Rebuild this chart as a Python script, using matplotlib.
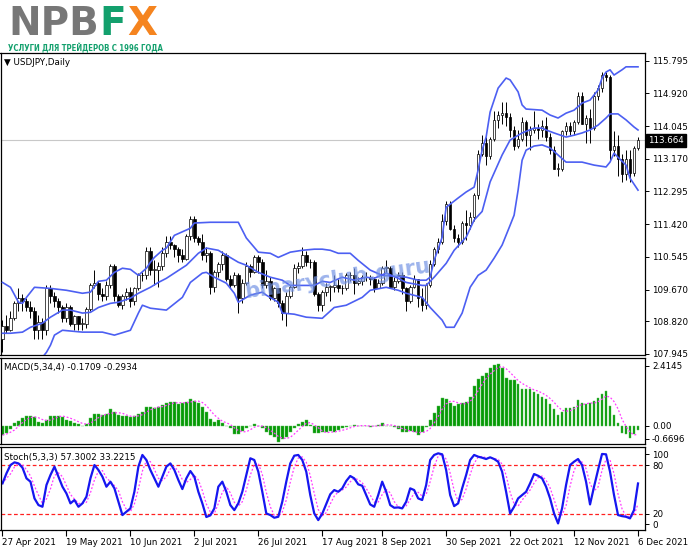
import numpy as np
import pandas as pd
import matplotlib
matplotlib.use('Agg')
import matplotlib.pyplot as plt

# USDJPY daily candles, 27 Apr 2021 .. 7 Dec 2021
opens = [108.35, 108.70, 108.60, 108.90, 109.30, 109.45, 109.35, 109.20, 109.10, 108.60,
         108.80, 108.60, 109.70, 109.50, 109.35, 109.20, 108.90, 109.20, 108.75, 108.95,
         108.75, 108.75, 109.15, 109.80, 109.85, 109.55, 109.50, 109.80, 110.30, 109.50,
         109.25, 109.50, 109.60, 109.35, 109.70, 110.05, 110.05, 110.70, 110.20, 110.20,
         110.30, 110.65, 110.95, 110.85, 110.75, 110.60, 110.50, 111.10, 111.55, 111.05,
         110.95, 110.60, 110.65, 109.75, 110.15, 110.35, 110.60, 109.95, 109.80, 110.05,
         109.45, 109.85, 110.30, 110.15, 110.55, 110.40, 109.80, 109.90, 109.45, 109.70,
         109.30, 109.05, 109.50, 109.75, 110.25, 110.30, 110.60, 110.40, 110.40, 109.55,
         109.25, 109.60, 109.75, 109.75, 109.80, 109.70, 109.70, 110.05, 110.05, 109.85,
         109.90, 110.00, 110.00, 109.95, 109.70, 109.85, 110.25, 110.25, 109.75, 109.90,
         110.05, 109.70, 109.35, 109.75, 109.95, 109.45, 109.25, 109.80, 110.35, 110.75,
         110.95, 111.50, 111.95, 111.30, 111.05, 110.95, 111.45, 111.40, 111.60, 112.20,
         113.30, 113.60, 113.25, 113.70, 114.20, 114.35, 114.40, 114.30, 113.95, 113.50,
         113.70, 114.15, 113.80, 113.95, 114.00, 113.95, 114.05, 113.75, 113.40, 112.90,
         112.90, 113.90, 114.05, 113.90, 114.15, 114.85, 114.10, 114.25, 114.00, 114.85,
         115.05, 115.40, 115.35, 113.40, 113.50, 113.15, 112.75, 113.15, 112.80, 113.45]
highs = [108.85, 109.00, 109.10, 109.35, 109.70, 109.55, 109.45, 109.35, 109.20, 109.00,
         108.90, 109.80, 109.80, 109.60, 109.45, 109.25, 109.30, 109.25, 109.00, 108.95,
         108.90, 109.20, 109.85, 110.20, 109.90, 109.70, 109.90, 110.35, 110.35, 109.55,
         109.55, 109.70, 109.75, 109.75, 110.10, 110.15, 110.80, 110.80, 110.45, 110.40,
         110.80, 111.10, 111.10, 110.90, 110.80, 110.75, 111.15, 111.65, 111.65, 111.10,
         111.15, 110.80, 110.70, 110.20, 110.40, 110.70, 110.65, 110.05, 110.15, 110.10,
         109.95, 110.40, 110.35, 110.60, 110.60, 110.50, 110.20, 110.00, 109.75, 109.70,
         109.40, 109.60, 109.80, 110.35, 110.40, 110.80, 110.70, 110.50, 110.45, 109.60,
         109.65, 109.85, 109.80, 110.05, 109.95, 109.80, 110.10, 110.15, 110.25, 110.00,
         110.05, 110.15, 110.05, 110.00, 109.95, 110.30, 110.45, 110.30, 110.00, 110.15,
         110.15, 109.75, 109.80, 110.05, 109.95, 109.70, 109.85, 110.45, 110.80, 111.05,
         111.70, 112.05, 112.05, 111.40, 111.15, 111.50, 111.80, 111.75, 112.25, 113.40,
         113.80, 113.75, 113.75, 114.45, 114.45, 114.70, 114.70, 114.40, 114.05, 113.95,
         114.30, 114.20, 114.05, 114.45, 114.10, 114.20, 114.30, 113.85, 113.50, 113.05,
         113.95, 114.15, 114.15, 114.20, 114.95, 114.95, 114.35, 114.50, 114.95, 115.15,
         115.50, 115.50, 115.40, 113.90, 113.80, 113.30, 113.40, 113.40, 113.50, 113.75]
lows = [108.00, 108.50, 108.55, 108.85, 109.10, 109.10, 109.10, 108.90, 108.35, 108.35,
        108.35, 108.45, 109.30, 109.20, 109.05, 108.80, 108.80, 108.70, 108.60, 108.60,
        108.60, 108.65, 109.10, 109.70, 109.40, 109.35, 109.40, 109.70, 109.35, 109.20,
        109.15, 109.40, 109.20, 109.25, 109.65, 109.90, 109.95, 110.05, 109.80, 109.75,
        110.20, 110.55, 110.75, 110.55, 110.40, 110.40, 110.45, 111.00, 110.95, 110.85,
        110.45, 110.40, 109.55, 109.60, 110.00, 110.20, 109.90, 109.70, 109.75, 109.05,
        109.30, 109.80, 110.00, 110.10, 110.10, 109.70, 109.70, 109.40, 109.35, 109.20,
        108.85, 108.70, 109.45, 109.70, 110.10, 110.25, 110.30, 110.25, 109.50, 109.10,
        109.10, 109.50, 109.35, 109.60, 109.60, 109.55, 109.65, 109.90, 109.55, 109.80,
        109.80, 109.90, 109.80, 109.60, 109.70, 109.80, 110.10, 109.70, 109.65, 109.85,
        109.55, 109.10, 109.30, 109.70, 109.20, 109.10, 109.15, 109.75, 110.30, 110.65,
        110.90, 111.40, 111.25, 110.95, 110.80, 110.90, 111.00, 111.30, 111.50, 112.10,
        113.25, 113.00, 113.15, 113.65, 114.00, 114.10, 114.05, 113.75, 113.40, 113.45,
        113.65, 113.50, 113.40, 113.85, 113.70, 113.75, 113.65, 113.30, 112.90, 112.70,
        112.85, 113.80, 113.80, 113.80, 114.10, 114.10, 113.60, 113.60, 113.95, 114.75,
        114.95, 115.25, 113.10, 113.25, 112.70, 112.55, 112.60, 112.55, 112.70, 113.40]
closes = [108.70, 108.60, 108.90, 109.30, 109.45, 109.35, 109.20, 109.10, 108.60, 108.80,
          108.60, 109.70, 109.50, 109.35, 109.20, 108.90, 109.20, 108.75, 108.95, 108.75,
          108.75, 109.15, 109.80, 109.85, 109.55, 109.50, 109.80, 110.30, 109.50, 109.25,
          109.50, 109.60, 109.35, 109.70, 110.05, 110.05, 110.70, 110.20, 110.20, 110.30,
          110.65, 110.95, 110.85, 110.75, 110.60, 110.50, 111.10, 111.55, 111.05, 110.95,
          110.60, 110.65, 109.75, 110.15, 110.35, 110.60, 109.95, 109.80, 110.05, 109.45,
          109.85, 110.30, 110.15, 110.55, 110.40, 109.80, 109.90, 109.45, 109.70, 109.30,
          109.05, 109.50, 109.75, 110.25, 110.30, 110.60, 110.40, 110.40, 109.55, 109.25,
          109.60, 109.75, 109.75, 109.80, 109.70, 109.70, 110.05, 110.05, 109.85, 109.90,
          110.00, 110.00, 109.95, 109.70, 109.85, 110.25, 110.25, 109.75, 109.90, 110.05,
          109.70, 109.35, 109.75, 109.95, 109.45, 109.25, 109.80, 110.35, 110.75, 110.95,
          111.50, 111.95, 111.30, 111.05, 110.95, 111.45, 111.40, 111.60, 112.20, 113.30,
          113.60, 113.25, 113.70, 114.20, 114.35, 114.40, 114.30, 113.95, 113.50, 113.70,
          114.15, 113.80, 113.95, 114.00, 113.95, 114.05, 113.75, 113.40, 112.90, 112.90,
          113.90, 114.05, 113.90, 114.15, 114.85, 114.10, 114.25, 114.00, 114.85, 115.05,
          115.40, 115.35, 113.40, 113.50, 113.15, 112.75, 113.15, 112.80, 113.45, 113.664]

# Bollinger bands, read at the bars where the lines could be read
upper_bar = [0, 2, 4, 5, 6, 8, 12, 16, 20, 22, 24, 26, 28, 30, 32, 34, 36, 37, 38, 40,
             41, 43, 47, 48, 52, 56, 59, 61, 64, 67, 69, 72, 75, 78, 80, 82, 84, 87, 89, 92,
             95, 101, 104, 106, 107, 108, 110, 111, 114, 116, 118, 119, 120, 121, 122, 124,
             126, 127, 129, 130, 131, 135, 137, 139, 141, 143, 145, 147, 149, 150, 151, 152,
             153, 155, 156, 159]
upper_val = [109.86, 109.73, 109.33, 109.30, 109.46, 109.73, 109.70, 109.65, 109.57, 109.60,
             109.89, 109.92, 110.13, 110.24, 110.21, 110.05, 110.24, 110.40, 110.53, 110.72,
             110.78, 111.12, 111.31, 111.45, 111.47, 111.47, 111.47, 111.05, 110.67, 110.64,
             110.53, 110.67, 110.72, 110.75, 110.75, 110.72, 110.64, 110.64, 110.45, 110.19,
             110.05, 110.00, 109.92, 109.92, 110.00, 110.45, 111.07, 111.87, 112.12, 112.28,
             112.41, 112.87, 113.40, 113.75, 114.42, 115.06, 115.33, 115.28, 114.96, 114.61,
             114.50, 114.47, 114.34, 114.26, 114.39, 114.47, 114.66, 114.74, 115.01, 115.33,
             115.49, 115.55, 115.41, 115.55, 115.63, 115.63]
mid_bar = [0, 2, 5, 7, 10, 12, 15, 17, 20, 22, 24, 27, 29, 32, 34, 37, 39, 41, 43, 46,
           49, 51, 54, 56, 59, 61, 64, 67, 70, 72, 75, 78, 80, 82, 85, 88, 91, 93, 96, 99,
           101, 105, 106, 108, 111, 113, 116, 118, 120, 122, 125, 127, 130, 133, 135, 136,
           138, 141, 143, 145, 147, 149, 151, 152, 154, 156, 158, 159]
mid_val = [108.50, 108.50, 108.53, 108.66, 108.77, 108.93, 109.12, 109.12, 109.04, 109.06,
           109.19, 109.30, 109.33, 109.44, 109.57, 109.73, 109.86, 109.97, 110.11, 110.32,
           110.64, 110.78, 110.72, 110.59, 110.40, 110.32, 110.13, 110.00, 109.92, 109.78,
           109.78, 109.78, 109.89, 109.86, 110.00, 109.92, 110.00, 109.97, 110.11, 109.97,
           109.86, 109.78, 109.78, 110.00, 110.37, 110.72, 111.07, 111.53, 111.76, 112.55,
           113.27, 113.67, 113.86, 113.99, 113.99, 113.94, 113.86, 113.75, 113.80, 113.86,
           113.94, 114.07, 114.26, 114.37, 114.37, 114.21, 114.02, 113.94]
lower_bar = [0, 4, 8, 11, 12, 13, 15, 20, 25, 28, 32, 34, 35, 37, 41, 45, 47, 50, 51, 53,
             56, 58, 59, 62, 65, 66, 69, 70, 73, 76, 80, 83, 86, 90, 92, 96, 99, 101, 105, 107,
             110, 111, 113, 115, 117, 119, 121, 123, 125, 127, 128, 129, 130, 131, 133, 135,
             137, 139, 141, 145, 148, 151, 152, 153, 154, 156, 157, 159]
lower_val = [107.13, 107.75, 107.59, 107.99, 108.18, 108.45, 108.58, 108.53, 108.53, 108.45,
             108.58, 109.04, 109.25, 109.17, 109.12, 109.46, 109.86, 110.11, 110.13, 110.00,
             109.84, 109.57, 109.33, 109.52, 109.60, 109.52, 109.33, 109.04, 109.01, 108.93,
             108.90, 109.19, 109.25, 109.46, 109.65, 109.73, 109.65, 109.57, 109.46, 109.19,
             108.85, 108.66, 108.66, 109.04, 109.73, 110.05, 110.19, 110.51, 110.86, 111.39,
             111.66, 112.33, 113.13, 113.40, 113.51, 113.54, 113.46, 113.27, 113.08, 113.08,
             113.00, 112.95, 113.08, 113.32, 113.21, 113.00, 112.65, 112.33]

# MACD(5,34,4) main line (histogram)
macd = [-0.35, -0.27, -0.10, 0.10, 0.21, 0.31, 0.39, 0.39, 0.33, 0.17,
        0.10, 0.25, 0.40, 0.39, 0.39, 0.36, 0.25, 0.20, 0.13, 0.08,
        -0.01, 0.08, 0.30, 0.46, 0.45, 0.42, 0.45, 0.64, 0.53, 0.42,
        0.38, 0.37, 0.35, 0.37, 0.48, 0.55, 0.75, 0.72, 0.71, 0.75,
        0.81, 0.90, 0.94, 0.91, 0.86, 0.87, 0.94, 1.03, 0.98, 0.90,
        0.72, 0.55, 0.26, 0.17, 0.22, 0.10, 0.01, -0.09, -0.30, -0.31,
        -0.19, -0.09, 0.01, 0.08, -0.01, -0.09, -0.24, -0.35, -0.42, -0.60,
        -0.50, -0.41, -0.24, -0.09, 0.09, 0.17, 0.24, 0.04, -0.27, -0.28,
        -0.25, -0.24, -0.19, -0.22, -0.17, -0.09, -0.03, 0.01, 0.03, 0.01,
        0.01, 0.00, -0.03, -0.01, 0.05, 0.13, 0.00, -0.01, -0.04, -0.12,
        -0.22, -0.22, -0.19, -0.24, -0.35, -0.24, -0.03, 0.23, 0.49, 0.78,
        1.09, 1.06, 0.87, 0.78, 0.85, 0.90, 0.94, 1.13, 1.54, 1.83,
        1.92, 2.05, 2.22, 2.35, 2.41, 2.22, 1.87, 1.77, 1.77, 1.62,
        1.42, 1.42, 1.42, 1.32, 1.23, 1.13, 1.06, 0.83, 0.64, 0.42,
        0.55, 0.68, 0.71, 0.72, 1.00, 0.87, 0.83, 0.87, 0.95, 1.10,
        1.23, 1.35, 0.78, 0.42, 0.10, -0.26, -0.32, -0.48, -0.32, -0.17]

# Stoch(5,3,3) %K
stoch_k = [57.4, 69.8, 80.0, 83.3, 82.0, 76.7, 63.6, 59.5, 38.9, 30.7,
           28.6, 55.4, 67.7, 78.0, 65.6, 53.3, 45.0, 32.8, 36.9, 28.6,
           32.8, 41.0, 63.6, 80.0, 73.9, 65.6, 53.3, 59.5, 51.3, 34.8,
           18.4, 22.5, 26.6, 47.1, 78.0, 92.4, 86.2, 73.9, 63.6, 53.3,
           65.6, 78.0, 82.0, 73.9, 61.5, 50.4, 63.6, 72.6, 65.6, 47.1,
           32.8, 16.0, 18.0, 26.6, 53.3, 59.5, 47.1, 30.7, 24.5, 32.8,
           47.1, 67.7, 88.3, 86.2, 71.8, 47.1, 20.4, 18.4, 15.1, 16.3,
           34.8, 59.5, 82.0, 91.5, 92.4, 86.2, 71.8, 43.0, 20.4, 12.2,
           20.0, 32.0, 44.0, 49.2, 47.1, 51.3, 60.3, 66.5, 63.6, 56.2,
           54.5, 43.0, 31.5, 28.6, 43.0, 59.5, 47.1, 30.7, 27.4, 27.8,
           26.6, 34.8, 51.3, 49.2, 38.9, 36.9, 55.4, 86.2, 92.4, 94.4,
           93.2, 73.8, 43.0, 29.4, 32.8, 51.3, 67.7, 86.2, 92.4, 90.3,
           89.0, 87.4, 89.5, 87.4, 84.1, 71.8, 47.1, 20.4, 28.6, 38.9,
           43.0, 47.1, 57.4, 68.9, 66.8, 63.6, 53.3, 38.9, 20.4, 8.1,
           26.6, 55.4, 80.0, 84.1, 87.4, 80.0, 59.5, 31.5, 53.3, 73.9,
           93.6, 93.2, 71.8, 43.0, 18.4, 17.1, 16.3, 14.3, 24.5, 57.3]

price_ticks = [115.795, 114.920, 114.045, 113.170, 112.295, 111.420, 110.545, 109.670, 108.820, 107.945]
date_bars = [0, 16, 32, 48, 64, 80, 95, 111, 127, 143, 159]
date_labels = ['27 Apr 2021', '19 May 2021', '10 Jun 2021', '2 Jul 2021', '26 Jul 2021', '17 Aug 2021',
               '8 Sep 2021', '30 Sep 2021', '22 Oct 2021', '12 Nov 2021', '6 Dec 2021']

bars = np.arange(len(closes))
o = np.array(opens)
c = np.array(closes)

# signal lines: MACD signal = SMA(4) of main, Stoch signal = SMA(3) of %K
macd_sig = pd.Series(macd).rolling(4, min_periods=1).mean()
stoch_d = pd.Series(stoch_k).rolling(3, min_periods=1).mean()

W, H = 691, 549
fig = plt.figure(figsize=(W / 100, H / 100), dpi=100)
fig.patch.set_facecolor('white')

def panel(top, bottom):
    a = fig.add_axes([0.5 / W, 1 - bottom / H, 644.5 / W, (bottom - top) / H])
    a.set_xlim(-0.5, 160.75)
    a.yaxis.tick_right()
    a.tick_params(axis='y', direction='out', length=3, width=0.7, pad=2, labelsize=6.3, colors='black')
    a.tick_params(axis='x', bottom=False, labelbottom=False)
    for s in a.spines.values():
        s.set_color('black')
        s.set_linewidth(0.9)
    return a

ax = panel(53, 355)
ax_macd = panel(358, 444)
ax_st = panel(447, 530)

# --- main chart
ax.set_ylim(107.918, 116.0)
ax.axhline(c[-1], color='#c8c8c8', lw=0.8, zorder=1)
ax.vlines(bars, lows, highs, color='black', lw=0.7, zorder=3)
ax.bar(bars, np.maximum(np.abs(c - o), 0.015), bottom=np.minimum(o, c), width=0.66,
       color=np.where(c >= o, 'white', 'black'), edgecolor='black', lw=0.5, zorder=4)
bb_col = '#4c5ff2'
ax.plot(upper_bar, upper_val, color=bb_col, lw=1.2, zorder=5)
ax.plot(mid_bar, mid_val, color=bb_col, lw=1.2, zorder=5)
ax.plot(lower_bar, lower_val, color=bb_col, lw=1.2, zorder=5)
ax.set_yticks(price_ticks)
ax.set_yticklabels([f'{v:.3f}' for v in price_ticks])
ax.text(1.005, c[-1], f'{c[-1]:.3f}', transform=ax.get_yaxis_transform(), fontsize=6.3,
        color='white', va='center', ha='left',
        bbox=dict(facecolor='black', edgecolor='black', boxstyle='square,pad=0.25'))
ax.text(0.006, 0.967, '\u25bc USDJPY,Daily', transform=ax.transAxes, fontsize=6.3, va='center')

# --- MACD
ax_macd.set_ylim(-0.695, 2.625)
ax_macd.bar(bars, macd, width=0.7, color='#079a07', edgecolor='#55c055', lw=0.3)
ax_macd.plot(bars, macd_sig, color='#ff3cff', lw=0.9, ls=(0, (1.5, 1.5)))
ax_macd.set_yticks([2.32, 0.0, -0.50])
ax_macd.set_yticklabels(['2.4145', '0.00', '-0.6696'])
ax_macd.text(0.006, 0.89, 'MACD(5,34,4) -0.1709 -0.2934', transform=ax_macd.transAxes,
             fontsize=6.3, va='center')

# --- Stochastic
ax_st.set_ylim(0, 102.2)
for lvl in (80, 20):
    ax_st.axhline(lvl, color='#ff2020', lw=0.9, ls=(0, (3, 2)))
ax_st.plot(bars, stoch_d, color='#ff3cff', lw=0.9, ls=(0, (1.5, 1.5)))
ax_st.plot(bars, stoch_k, color='#1616f0', lw=1.6)
ax_st.set_yticks([93, 80, 20, 7])
ax_st.set_yticklabels(['100', '80', '20', '0'])
ax_st.text(0.006, 0.87, 'Stoch(5,3,3) 57.3002 33.2215', transform=ax_st.transAxes,
           fontsize=6.3, va='center')
ax_st.set_xticks(date_bars)
ax_st.set_xticklabels(date_labels, ha='left')
ax_st.tick_params(axis='x', bottom=True, labelbottom=True, direction='out', length=4,
                  width=0.8, pad=2, labelsize=6.3)

# watermark
fig.text(246 / W, 1 - 298 / H, 'binaryclub.guru', fontsize=15, weight='bold', color='#7393e4',
         alpha=0.7, rotation=8, rotation_mode='anchor', ha='left', va='baseline')

# logo: each part placed right after the previous one
rend = fig.canvas.get_renderer()
x_px = 8
for part, col in [('NPB', '#777777'), ('F', '#13a06d'), ('X', '#f5841f')]:
    t = fig.text(x_px / W, 1 - 35 / H, part, fontsize=28, weight='bold', color=col, va='baseline')
    x_px = t.get_window_extent(rend).x1 + 1
fig.text(8 / W, 1 - 51 / H, '\u0423\u0421\u041b\u0423\u0413\u0418 \u0414\u041b\u042f \u0422\u0420\u0415\u0419\u0414\u0415\u0420\u041e\u0412 \u0421 1996 \u0413\u041e\u0414\u0410',
         fontsize=5.6, weight='bold', color='#13a06d', va='baseline', fontstretch='condensed')

fig.savefig('out.png', dpi=100)
